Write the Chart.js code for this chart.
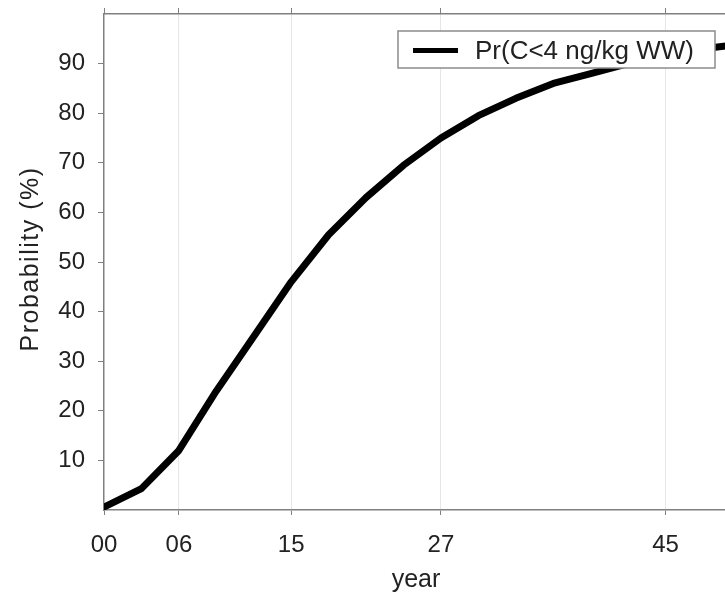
<!DOCTYPE html>
<html>
<head>
<meta charset="utf-8">
<script src="https://cdn.jsdelivr.net/npm/chart.js@4"></script>
<style>
  html, body { margin: 0; padding: 0; background: #fff; overflow: hidden; }
  #wrap { width: 728px; height: 592px; }
</style>
</head>
<body>
<div id="wrap"><canvas id="chart" width="728" height="592"></canvas></div>
<script>
// probability curve, sampled every 3 years
var years = [0, 3, 6, 9, 12, 15, 18, 21, 24, 27, 30, 33, 36, 39, 42, 45, 48, 50];
var probability = [0.6, 4.3, 12, 24, 35, 46, 55.5, 63, 69.5, 75, 79.5, 83, 86, 88, 90, 91.8, 93, 93.6];
var yearTicks = [0, 6, 15, 27, 45];
var probTicks = [10, 20, 30, 40, 50, 60, 70, 80, 90];
var seriesLabel = 'Pr(C<4 ng/kg WW)';
var yTitle = 'Probability (%)';

var FONT = '"Liberation Sans", Arial, sans-serif';
var AXIS = '#808080';
var TEXT = '#222';

// boxed legend inside the plot plus the rotated y title (needs letter spacing)
var extras = {
  id: 'extras',
  afterDatasetsDraw: function(chart) {
    var ctx = chart.ctx, a = chart.chartArea;
    var ds = chart.data.datasets[0];
    var x = a.left + 294, y = a.top + 17, w = 317, h = 37;
    ctx.save();
    ctx.fillStyle = '#fff';
    ctx.fillRect(x, y, w, h);
    ctx.strokeStyle = '#8c8c8c';
    ctx.lineWidth = 1.5;
    ctx.strokeRect(x, y, w, h);
    ctx.beginPath();
    ctx.moveTo(x + 15, y + h / 2 + 1);
    ctx.lineTo(x + 60, y + h / 2 + 1);
    ctx.strokeStyle = ds.borderColor;
    ctx.lineWidth = 5;
    ctx.stroke();
    ctx.fillStyle = TEXT;
    ctx.font = '26px ' + FONT;
    ctx.textBaseline = 'alphabetic';
    ctx.fillText(ds.label, x + 77, y + 28);
    ctx.restore();
  },
  afterDraw: function(chart) {
    var ctx = chart.ctx, a = chart.chartArea;
    ctx.save();
    ctx.translate(38, (a.top + a.bottom) / 2 - 3);
    ctx.rotate(-Math.PI / 2);
    ctx.font = '25px ' + FONT;
    ctx.letterSpacing = '1.5px';
    ctx.fillStyle = TEXT;
    ctx.textAlign = 'center';
    ctx.textBaseline = 'alphabetic';
    ctx.fillText(yTitle, 0, 0);
    ctx.restore();
  }
};

function noPad(axis) {
  axis.paddingTop = 0; axis.paddingBottom = 0;
  axis.paddingLeft = 0; axis.paddingRight = 0;
}

new Chart(document.getElementById('chart'), {
  type: 'line',
  data: {
    datasets: [{
      label: seriesLabel,
      data: years.map(function(yr, i) { return { x: yr, y: probability[i] }; }),
      borderColor: '#000',
      borderWidth: 7,
      borderJoinStyle: 'round',
      borderCapStyle: 'round',
      pointRadius: 0,
      tension: 0
    }]
  },
  options: {
    responsive: false,
    animation: false,
    layout: { padding: 0 },
    plugins: { legend: { display: false }, tooltip: { enabled: false } },
    scales: {
      x: {
        type: 'linear',
        position: 'bottom',
        min: 0, max: 50,
        afterBuildTicks: function(axis) { axis.ticks = yearTicks.map(function(v) { return { value: v }; }); },
        afterFit: function(axis) { axis.height = 82; noPad(axis); },
        ticks: {
          color: TEXT,
          font: { family: FONT, size: 24 },
          padding: 16,
          maxRotation: 0,
          callback: function(v) { return (v < 10 ? '0' : '') + v; }
        },
        grid: {
          color: function(c) { return c.tick && c.tick.value === 0 ? 'rgba(0,0,0,0)' : '#e6e6e6'; },
          lineWidth: 1,
          tickColor: AXIS,
          tickLength: 5
        },
        border: { color: AXIS, width: 1.5 },
        title: {
          display: true,
          text: 'year',
          color: TEXT,
          font: { family: FONT, size: 25 },
          padding: { top: 0, bottom: -3 }
        }
      },
      xTop: {
        type: 'linear',
        position: 'top',
        min: 0, max: 50,
        afterBuildTicks: function(axis) { axis.ticks = yearTicks.map(function(v) { return { value: v }; }); },
        afterFit: function(axis) { axis.height = 14; noPad(axis); },
        ticks: { display: false },
        grid: { drawOnChartArea: false, tickColor: AXIS, tickLength: 6 },
        border: { color: AXIS, width: 1.5 }
      },
      y: {
        min: 0, max: 100,
        afterBuildTicks: function(axis) { axis.ticks = probTicks.map(function(v) { return { value: v }; }); },
        afterFit: function(axis) { axis.width = 104; noPad(axis); },
        ticks: {
          color: TEXT,
          font: { family: FONT, size: 24 },
          padding: 13
        },
        grid: { drawOnChartArea: false, tickColor: AXIS, tickLength: 6 },
        border: { color: AXIS, width: 1.5 }
      }
    }
  },
  plugins: [extras]
});
</script>
</body>
</html>
